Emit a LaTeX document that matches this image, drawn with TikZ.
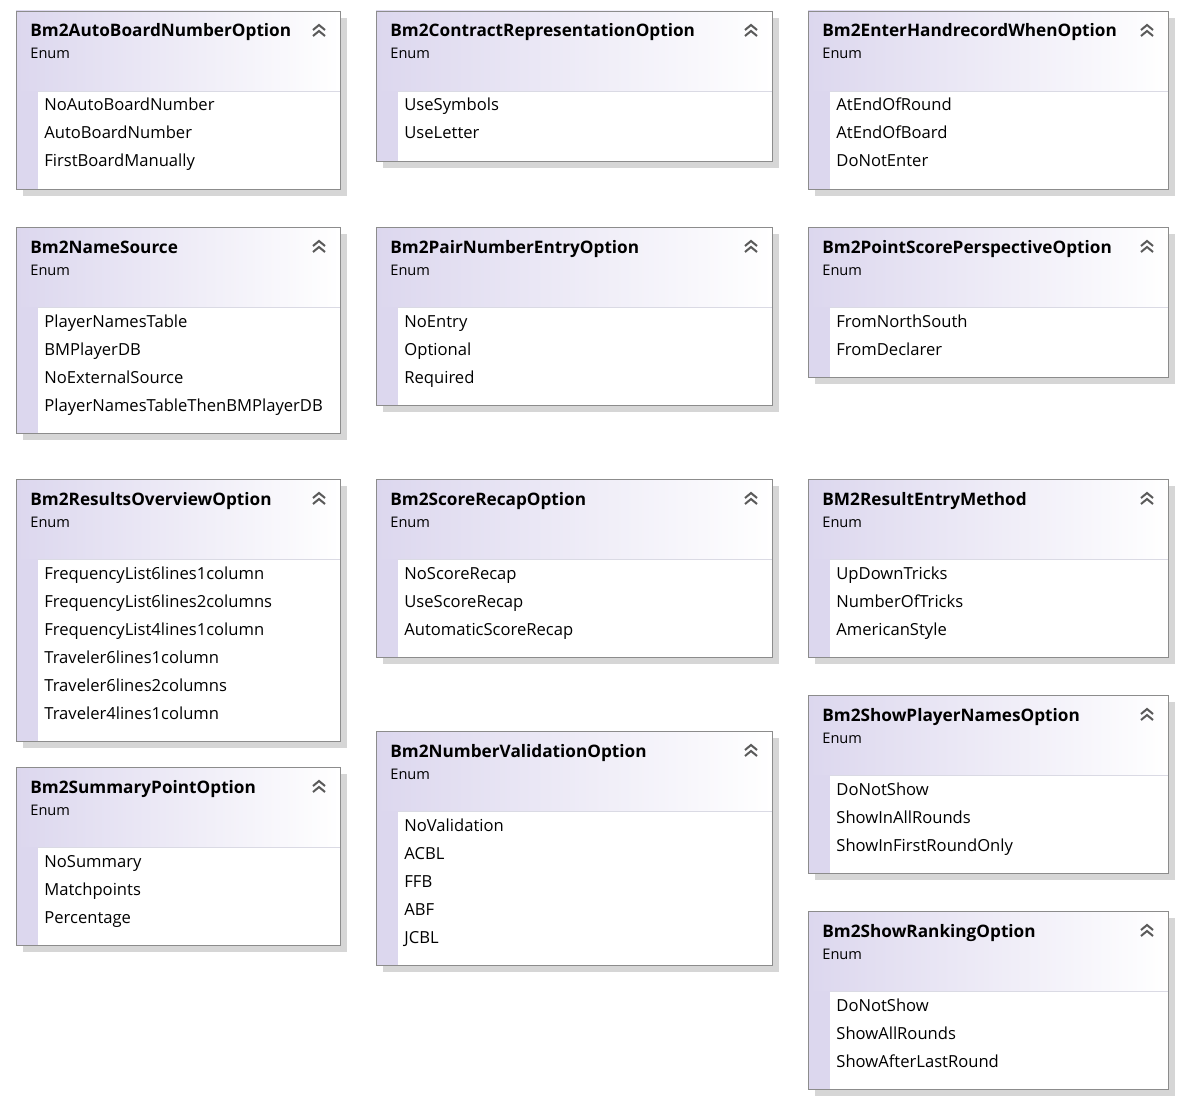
\documentclass[tikz,border=0pt]{standalone}
\usepackage{fontspec}
\setmainfont{Open Sans}
\usepackage{xcolor}
\definecolor{hdr}{HTML}{DCD7EE}
\definecolor{frame}{HTML}{8C8C8C}
\definecolor{boxshadow}{HTML}{D6D6D6}
\definecolor{rule}{HTML}{DADAE4}
\definecolor{chev}{HTML}{5A5A5A}

% enum box: name, left, top, right, title, members, count
\newcommand{\enumbox}[7]{%
  \pgfmathsetmacro\bot{#3+94+28*#7}
  \fill[boxshadow] (#2+7,#3+7) rectangle (#4+7,\bot+7);
  \shade[left color=hdr, right color=white] (#2,#3) rectangle (#4,#3+80);
  \fill[hdr] (#2,#3+80) rectangle (#2+22,\bot);
  \fill[white] (#2+22,#3+80) rectangle (#4,\bot);
  \draw[rule] (#2+22,#3+80) -- (#4,#3+80);
  \draw[frame] (#2,#3) rectangle (#4,\bot);
  \draw[chev, line width=1pt] (#4-27,#3+19) -- (#4-21,#3+14) -- (#4-15,#3+19);
  \draw[chev, line width=1pt] (#4-27,#3+25) -- (#4-21,#3+20) -- (#4-15,#3+25);
  \node[title] (#1) at (#2+14,#3+26) {#5};
  \node[kind] (#1-kind) at (#2+14,#3+48) {Enum};
  \foreach \m [count=\i from 0] in {#6}
    \node[member] (#1-\i) at (#2+28,#3+100+28*\i) {\m};
}

\begin{document}
\begin{tikzpicture}[x=0.5pt, y=-0.5pt,
  every node/.style={inner sep=0pt, anchor=base west},
  title/.style={font=\fontsize{8.6}{10}\selectfont\bfseries},
  kind/.style={font=\fontsize{7.3}{9}\selectfont},
  member/.style={font=\fontsize{8.3}{10}\selectfont}]
\useasboundingbox (0,0) rectangle (1183,1102);
\fill[white] (0,0) rectangle (1183,1102);

% === Row 1 ===
\enumbox{auto}{16}{11}{340}{Bm2AutoBoardNumberOption}{NoAutoBoardNumber,AutoBoardNumber,FirstBoardManually}{3}
\enumbox{contract}{376}{11}{772}{Bm2ContractRepresentationOption}{UseSymbols,UseLetter}{2}
\enumbox{handrec}{808}{11}{1168}{Bm2EnterHandrecordWhenOption}{AtEndOfRound,AtEndOfBoard,DoNotEnter}{3}

% === Row 2 ===
\enumbox{names}{16}{227}{340}{Bm2NameSource}{PlayerNamesTable,BMPlayerDB,NoExternalSource,PlayerNamesTableThenBMPlayerDB}{4}
\enumbox{pairno}{376}{227}{772}{Bm2PairNumberEntryOption}{NoEntry,Optional,Required}{3}
\enumbox{persp}{808}{227}{1168}{Bm2PointScorePerspectiveOption}{FromNorthSouth,FromDeclarer}{2}

% === Row 3 ===
\enumbox{overview}{16}{479}{340}{Bm2ResultsOverviewOption}{FrequencyList6lines1column,FrequencyList6lines2columns,FrequencyList4lines1column,Traveler6lines1column,Traveler6lines2columns,Traveler4lines1column}{6}
\enumbox{recap}{376}{479}{772}{Bm2ScoreRecapOption}{NoScoreRecap,UseScoreRecap,AutomaticScoreRecap}{3}
\enumbox{entry}{808}{479}{1168}{BM2ResultEntryMethod}{UpDownTricks,NumberOfTricks,AmericanStyle}{3}

% === Lower boxes ===
\enumbox{summary}{16}{767}{340}{Bm2SummaryPointOption}{NoSummary,Matchpoints,Percentage}{3}
\enumbox{validation}{376}{731}{772}{Bm2NumberValidationOption}{NoValidation,ACBL,FFB,ABF,JCBL}{5}
\enumbox{players}{808}{695}{1168}{Bm2ShowPlayerNamesOption}{DoNotShow,ShowInAllRounds,ShowInFirstRoundOnly}{3}
\enumbox{ranking}{808}{911}{1168}{Bm2ShowRankingOption}{DoNotShow,ShowAllRounds,ShowAfterLastRound}{3}

\end{tikzpicture}
\end{document}
